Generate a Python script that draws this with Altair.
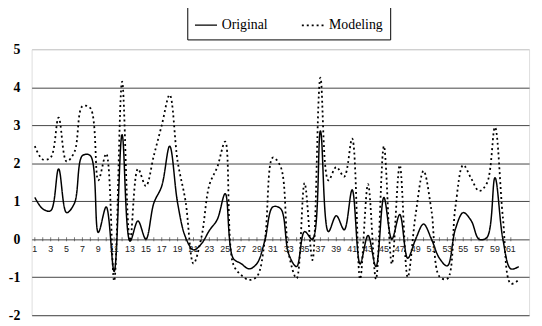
import altair as alt
import pandas as pd

x_idx = list(range(1, 63))
original = [1.1, 0.8, 0.75, 1.85, 0.7, 0.95, 2.2, 2.2, 0.18, 0.85,
            -0.85, 2.75, -0.05, 0.48, 0.0, 0.95, 1.4, 2.45, 0.95, 0.05,
            -0.28, -0.12, 0.23, 0.52, 1.2, -0.5, -0.64, -0.78, -0.64, -0.03,
            0.85, 0.8, -0.39, -0.72, 0.2, 0.0, 2.85, 0.2, 0.62, 0.25,
            1.3, -0.65, 0.1, -0.72, 1.1, 0.0, 0.65, -0.5, 0.0, 0.4,
            0.0, -0.5, -0.7, 0.26, 0.7, 0.49, 0.0, 0.05, 1.62, 0.0,
            -0.78, -0.72]
modeling = [2.45, 2.1, 2.15, 3.2, 2.05, 2.3, 3.5, 3.45, 1.55, 2.25,
            -1.1, 4.15, -0.05, 1.85, 1.4, 2.2, 3.0, 3.8, 2.05, 1.0,
            -0.64, 0.05, 1.43, 1.9, 2.57, -0.65, -0.94, -1.07, -0.98, -0.02,
            2.15, 1.9, -0.38, -1.03, 1.48, -0.55, 4.25, 1.55, 1.9, 1.65,
            2.65, -1.05, 1.45, -1.05, 2.45, -0.65, 1.95, -1.0, 0.65, 1.8,
            0.75, -0.98, -1.04, 0.83, 1.95, 1.6, 1.27, 1.48, 2.95, 0.57,
            -1.17, -1.07]
series_names = ["Original", "Modeling"]
y_ticks = [-2, -1, 0, 1, 2, 3, 4, 5]
x_tick_labels = list(range(1, 62, 2))

df = pd.DataFrame({
    "i": x_idx * 2,
    "v": original + modeling,
    "s": ["Original"] * len(original) + ["Modeling"] * len(modeling),
})

xs = alt.Scale(domain=[0.6, 63.3], nice=False, zero=False)
ys = alt.Scale(domain=[-2, 5], nice=False, zero=False)

lines = alt.Chart(df).mark_line(interpolate="catmull-rom", color="black").encode(
    x=alt.X("i:Q", scale=xs, axis=None),
    y=alt.Y("v:Q", scale=ys, axis=alt.Axis(
        values=y_ticks, tickCount=8, grid=True, domain=False, ticks=False, title=None,
        labelOverlap=False, labelFlush=False, labelExpr="toString(datum.value)",
        labelFont="Liberation Serif", labelFontSize=14, labelFontWeight="bold",
        labelColor="black", labelPadding=12,
        gridColor={"condition": {"test": "datum.value === 5", "value": "#c8c8c8"}, "value": "#444"},
        gridWidth=1)),
    strokeDash=alt.StrokeDash("s:N", scale=alt.Scale(domain=series_names, range=[[1, 0], [2, 3]]),
                              legend=alt.Legend(
                                  orient="none", legendX=158, legendY=-44, direction="horizontal",
                                  title=None, labelFont="Liberation Serif", labelFontSize=14,
                                  labelColor="black", symbolType="stroke", symbolSize=500,
                                  symbolStrokeColor="black", symbolStrokeWidth=1.2,
                                  strokeColor="black", padding=7, columnPadding=30,
                                  labelOffset=4)),
    strokeWidth=alt.StrokeWidth("s:N", scale=alt.Scale(domain=series_names, range=[1.5, 1.8]), legend=None),
)

lab_df = pd.DataFrame({"i": x_tick_labels, "y0": [0] * len(x_tick_labels)})
xlabels = alt.Chart(lab_df).mark_text(dy=10, fontSize=9, font="Liberation Sans", color="#222").encode(
    x=alt.X("i:Q", scale=xs, axis=None),
    y=alt.Y("y0:Q", scale=ys),
    text="i:Q",
)

tick_df = pd.DataFrame({"i": x_idx[:-1], "y0": [0] * (len(x_idx) - 1)})
ticks = alt.Chart(tick_df).mark_tick(orient="vertical", size=4, color="#444", thickness=1).encode(
    x=alt.X("i:Q", scale=xs, axis=None),
    y=alt.Y("y0:Q", scale=ys),
)

chart = alt.layer(ticks, lines, xlabels).properties(
    width=505, height=270,
    autosize=alt.AutoSizeParams(type="none"),
    padding={"left": 24, "top": 39.5, "right": 5, "bottom": 5},
).configure_view(stroke=None).configure(background="white")

chart.save("out.html", embed_options={"renderer": "svg", "actions": False})
